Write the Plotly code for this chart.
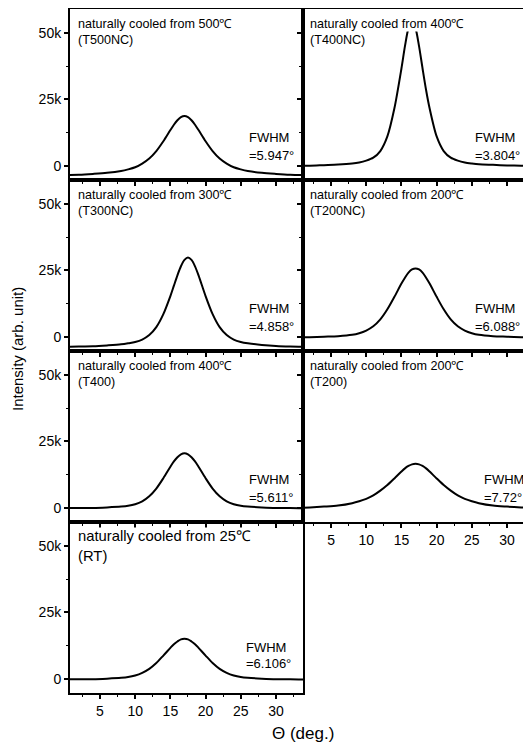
import plotly.graph_objects as go

# ---------------- data (intensity in thousands of counts) ----------------
theta = [0, 2, 4, 6, 8, 9, 10, 11, 12, 13, 14, 15, 15.5, 16, 16.5, 17, 17.5,
         18, 18.5, 19, 20, 21, 22, 23, 24, 25, 26, 28, 30, 32, 34]

t500nc = [-3.5, -3.4, -3.1, -2.7, -2.0, -1.4, -0.6, 0.8, 2.7, 5.5, 9.2, 13.4, 15.4, 17.1, 18.3, 18.7,
          18.3, 17.1, 15.4, 13.4, 9.2, 5.5, 2.7, 0.8, -0.6, -1.4, -2.0, -2.7, -3.1, -3.4, -3.5]
t400nc = [0.0, 0.0, 0.2, 0.4, 0.8, 1.2, 1.9, 3.0, 5.5, 11.0, 21.6, 36.6, 45.0, 51.8, 54.5, 51.8,
          45.0, 36.6, 28.5, 21.6, 11.0, 5.5, 3.0, 1.9, 1.2, 0.8, 0.5, 0.3, 0.1, 0.0, 0.0]
t300nc = [-3.9, -3.7, -3.6, -3.3, -2.9, -2.5, -2.0, -1.1, 0.6, 3.6, 8.5, 15.3, 19.2, 23.1, 26.5, 28.9,
          29.8, 28.9, 26.5, 23.1, 15.3, 8.5, 3.6, 0.6, -1.1, -2.0, -2.5, -3.1, -3.5, -3.7, -3.8]
t200nc = [-0.3, -0.2, 0.0, 0.2, 0.7, 1.3, 2.3, 3.9, 6.5, 10.3, 15.0, 20.0, 22.2, 24.1, 25.3, 25.7,
          25.3, 24.1, 22.2, 20.0, 15.0, 10.3, 6.5, 3.9, 2.3, 1.3, 0.7, 0.2, 0.0, -0.2, -0.3]
t400 = [-0.2, -0.1, -0.1, 0.1, 0.4, 0.7, 1.3, 2.4, 4.3, 7.2, 11.1, 15.4, 17.4, 19.0, 20.1, 20.5,
        20.1, 19.0, 17.4, 15.4, 11.1, 7.2, 4.3, 2.4, 1.3, 0.7, 0.4, 0.1, -0.1, -0.1, -0.2]
t200 = [-0.1, 0.1, 0.4, 0.8, 1.7, 2.4, 3.3, 4.6, 6.4, 8.5, 11.0, 13.6, 14.8, 15.7, 16.3, 16.5,
        16.3, 15.7, 14.8, 13.6, 11.0, 8.5, 6.4, 4.6, 3.3, 2.4, 1.7, 0.8, 0.4, 0.1, -0.1]
rt = [-0.3, -0.2, -0.2, 0.0, 0.3, 0.6, 1.2, 2.2, 3.7, 5.9, 8.7, 11.6, 13.0, 14.0, 14.8, 15.0,
      14.8, 14.0, 13.0, 11.6, 8.7, 5.9, 3.7, 2.2, 1.2, 0.6, 0.3, 0.0, -0.2, -0.2, -0.3]

titles = ["naturally cooled from 500℃", "naturally cooled from 400℃",
          "naturally cooled from 300℃", "naturally cooled from 200℃",
          "naturally cooled from 400℃", "naturally cooled from 200℃",
          "naturally cooled from 25℃"]
codes = ["(T500NC)", "(T400NC)", "(T300NC)", "(T200NC)", "(T400)", "(T200)", "(RT)"]
fwhm = ["=5.947°", "=3.804°", "=4.858°", "=6.088°", "=5.611°", "=7.72°", "=6.106°"]
series = [t500nc, t400nc, t300nc, t200nc, t400, t200, rt]
cells = [(1, 1), (1, 2), (2, 1), (2, 2), (3, 1), (3, 2), (4, 1)]

ytickvals = [0, 25, 50]
yticktext = ["0", "25k", "50k"]

# ---------------- layout geometry ----------------
OFF = 8                      # default page-body margin around the plot div
W, H = 531 - OFF, 747 - OFF
ML, MT = 70 - OFF, 1
LEFTW = 233
PW = W - ML
RIGHTW = PW - LEFTW
PH = 693 - OFF - MT
MB = H - MT - PH
ROWH = PH / 4
xdom = {1: [0, LEFTW / PW], 2: [LEFTW / PW, 1]}
xrng = {1: [0.74, 33.84], 2: [1.02, 33.4]}
yrng = [-5.4, 59]

FONT = "Liberation Sans, Arial, sans-serif"

fig = go.Figure()
ann = []
for i, ((r, c), ys) in enumerate(zip(cells, series)):
    k = i + 1
    xa = "x" if k == 1 else f"x{k}"
    ya = "y" if k == 1 else f"y{k}"
    fig.add_trace(go.Scatter(x=theta, y=ys, mode="lines", xaxis=xa, yaxis=ya,
                             line=dict(color="black", width=2, shape="spline", smoothing=0.8),
                             showlegend=False, hoverinfo="skip"))
    bottom = (r == 4) or (r == 3 and c == 2)
    xname = "xaxis" if k == 1 else f"xaxis{k}"
    yname = "yaxis" if k == 1 else f"yaxis{k}"
    ydom = [1 - r * 0.25, 1 - (r - 1) * 0.25]
    fig.layout[xname] = dict(
        domain=xdom[c], range=xrng[c], anchor=ya, showline=True, linecolor="black",
        linewidth=2, mirror=True, ticks="outside", ticklen=4, tickwidth=1.5,
        tickcolor="black", tick0=0, dtick=5, showgrid=False, zeroline=False,
        showticklabels=bottom, tickfont=dict(family=FONT, size=14, color="black"),
        minor=dict(dtick=2.5, tick0=0, ticks="outside", ticklen=2, tickcolor="black",
                   tickwidth=1),
        fixedrange=True)
    fig.layout[yname] = dict(
        domain=ydom, range=yrng, anchor=xa, showline=True, linecolor="black",
        linewidth=2, mirror=(c == 1), ticks="outside", ticklen=4, tickwidth=1.5,
        tickcolor="black", tickvals=ytickvals, ticktext=yticktext, showgrid=False,
        zeroline=False, showticklabels=(c == 1),
        tickfont=dict(family=FONT, size=14, color="black"),
        minor=dict(tickvals=[12.5, 37.5], ticks="outside", ticklen=2, tickcolor="black",
                   tickwidth=1),
        fixedrange=True)

    pw = LEFTW if c == 1 else RIGHTW
    big = (r == 4)
    tsize = 14.8 if big else 12.6
    l1y, l2y = (14, 34) if big else (15, 31)
    tx = 7 if c == 1 else 6
    fx = 178 if c == 1 else (180 if r == 3 else 171)
    if big:
        fx = 175
    f1y, f2y = (125, 141) if big else (128, 146)

    def add(px, py, text, size, bg=None):
        d = dict(xref=f"{xa} domain", yref=f"{ya} domain", x=px / pw, y=1 - py / ROWH,
                 xanchor="left", yanchor="middle", text=text, showarrow=False,
                 font=dict(family=FONT, size=size, color="black"), borderpad=0)
        if bg:
            d["bgcolor"] = bg
        ann.append(d)

    add(tx, l1y, titles[i], tsize, bg="white")
    add(tx, l2y, codes[i], tsize)
    add(fx, f1y, "FWHM", 13)
    add(fx, f2y, fwhm[i], 13)

ann.append(dict(xref="paper", yref="paper", x=(18 - OFF - ML) / PW,
                y=1 - (349 - OFF - MT) / PH,
                text="Intensity (arb. unit)", textangle=-90, showarrow=False,
                xanchor="center", yanchor="middle",
                font=dict(family=FONT, size=15, color="black")))
ann.append(dict(xref="paper", yref="paper", x=(303 - OFF - ML) / PW,
                y=1 - (733 - OFF - MT) / PH,
                text="Θ (deg.)", showarrow=False, xanchor="center", yanchor="middle",
                font=dict(family=FONT, size=17, color="black")))

fig.update_layout(width=W, height=H, margin=dict(l=ML, r=0, t=MT, b=MB),
                  paper_bgcolor="white", plot_bgcolor="white", annotations=ann,
                  showlegend=False)
fig.write_html("out.html")
